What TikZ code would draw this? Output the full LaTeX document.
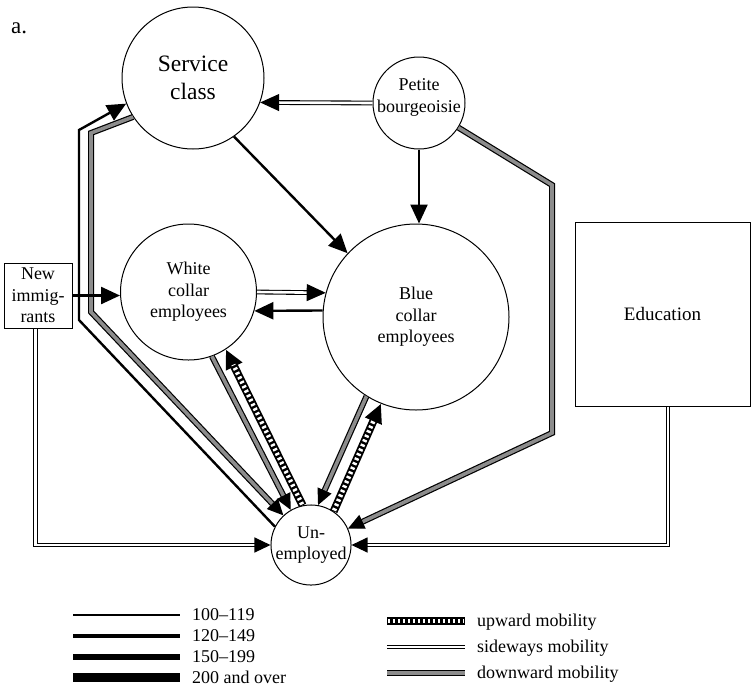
\documentclass[tikz,border=0pt]{standalone}
\usepackage{fontspec}
\setmainfont{Liberation Serif}
\usetikzlibrary{arrows.meta}
\definecolor{downgray}{gray}{0.55}
\tikzset{
  txt/.style={font=\fontsize{18}{21.5}\selectfont, align=center},
  classnode/.style={draw, circle, line width=1pt, inner sep=0pt, txt},
  boxnode/.style={draw, rectangle, line width=1pt, inner sep=0pt, txt},
  tipbig/.style={-{Triangle[length=19pt,width=17pt]}},
  tipsmall/.style={-{Triangle[length=16pt,width=15pt]}},
  flow/.style={line width=2.4pt},
  sideways/.style={line width=1.1pt, double=white, double distance=2.6pt},
  downward/.style={line width=1.2pt, double=downgray, double distance=3.6pt},
  upward/.style={line width=8pt,
    postaction={draw=white, line width=4.4pt, dash pattern=on 2.4pt off 2.6pt,
                shorten >=17pt, shorten <=1pt, -}},
  upwardkey/.style={line width=8pt,
    postaction={draw=white, line width=4.5pt, dash pattern=on 2.4pt off 2.6pt,
                shorten >=1pt, shorten <=1pt}},
  legendtxt/.style={txt, anchor=base west, inner sep=0pt},
}
\begin{document}
\begin{tikzpicture}[x=1pt, y=-1pt]
\useasboundingbox (0,0) rectangle (751,686);

% panel letter
\node[txt, anchor=base west, inner sep=0pt, font=\fontsize{23}{26}\selectfont] (panel) at (11,33) {a.};

% class positions
\node[classnode, minimum size=142pt, font=\fontsize{23.5}{28}\selectfont] (svc) at (193,78) {Service\\class};
\node[classnode, minimum size=92pt] (pb) at (419,103) {};
\node[txt] (pbt) at (419,97.5) {Petite\\bourgeoisie};
\node[classnode, minimum size=136pt] (wc) at (188.5,292) {White\\collar\\employees};
\node[classnode, minimum size=186pt] (bc) at (416,317) {Blue\\collar\\employees};
\node[classnode, minimum size=78pt] (un) at (311,545) {Un-\\employed};
\node[boxnode, minimum width=68pt, minimum height=65pt] (ni) at (38,295.5) {New\\immig-\\rants};
\node[boxnode, minimum width=175pt, minimum height=184pt, font=\fontsize{19}{22}\selectfont] (edu) at (662.5,314) {Education};

% bend points
\coordinate (pbk1) at (552,185);
\coordinate (pbk2) at (552,433);
\coordinate (edk) at (668,545);
\coordinate (nik) at (35.5,545);
\coordinate (blk1) at (79,320);
\coordinate (blk2) at (79,130);
\coordinate (grk1) at (91,312);
\coordinate (grk2) at (91,133);

% downward mobility
\draw[downward, tipsmall] (pb.-32) -- (pbk1) -- (pbk2) -- (un.24);
\draw[downward, tipsmall] (svc.213.5) -- (grk2) -- (grk1) -- (un.133);
\draw[downward, tipsmall] (wc.-70) -- (un.120);
\draw[downward, tipsmall] (bc.-122) -- (un.80);

% sideways mobility
\draw[sideways, tipbig] (pb.west) -- (svc.-20.6);
\draw[sideways, tipbig] (wc.east) -- (bc.165);
\draw[sideways, tipsmall] (edk |- edu.south) -- (edk) -- (un.east);
\draw[sideways, tipsmall] (nik |- ni.south) -- (nik) -- (un.west);

% upward mobility
\draw[upward, tipbig] (un.102) -- (wc.-57);
\draw[upward, tipbig] (un.56) -- (bc.-112);

% plain flows
\draw[flow, tipbig] (svc.-55) -- (bc.137);
\draw[flow, tipbig] (pb.south) -- (pb.south |- bc.north);
\draw[flow, tipbig] (ni.east) -- (ni.east -| wc.west);
\draw[flow, tipbig] (bc.176) -- (wc.-16);
\draw[flow, tipbig] (un.153) -- (blk1) -- (blk2) -- (svc.201);

% key: flow sizes
\draw[line width=2.2pt] (73,615) -- (180,615);
\node[legendtxt] (k1) at (192,620.5) {100–119};
\draw[line width=4pt] (73,636) -- (180,636);
\node[legendtxt] (k2) at (192,641.5) {120–149};
\draw[line width=6pt] (73,657) -- (180,657);
\node[legendtxt] (k3) at (192,662.5) {150–199};
\draw[line width=8.5pt] (73,677.5) -- (180,677.5);
\node[legendtxt] (k4) at (192,683) {200 and over};

% key: mobility types
\draw[upwardkey] (387,621) -- (465,621);
\node[legendtxt] (k5) at (477,626) {upward mobility};
\draw[sideways] (387,647) -- (465,647);
\node[legendtxt] (k6) at (477,652) {sideways mobility};
\draw[downward] (387,673) -- (465,673);
\node[legendtxt] (k7) at (477,678) {downward mobility};
\end{tikzpicture}
\end{document}
